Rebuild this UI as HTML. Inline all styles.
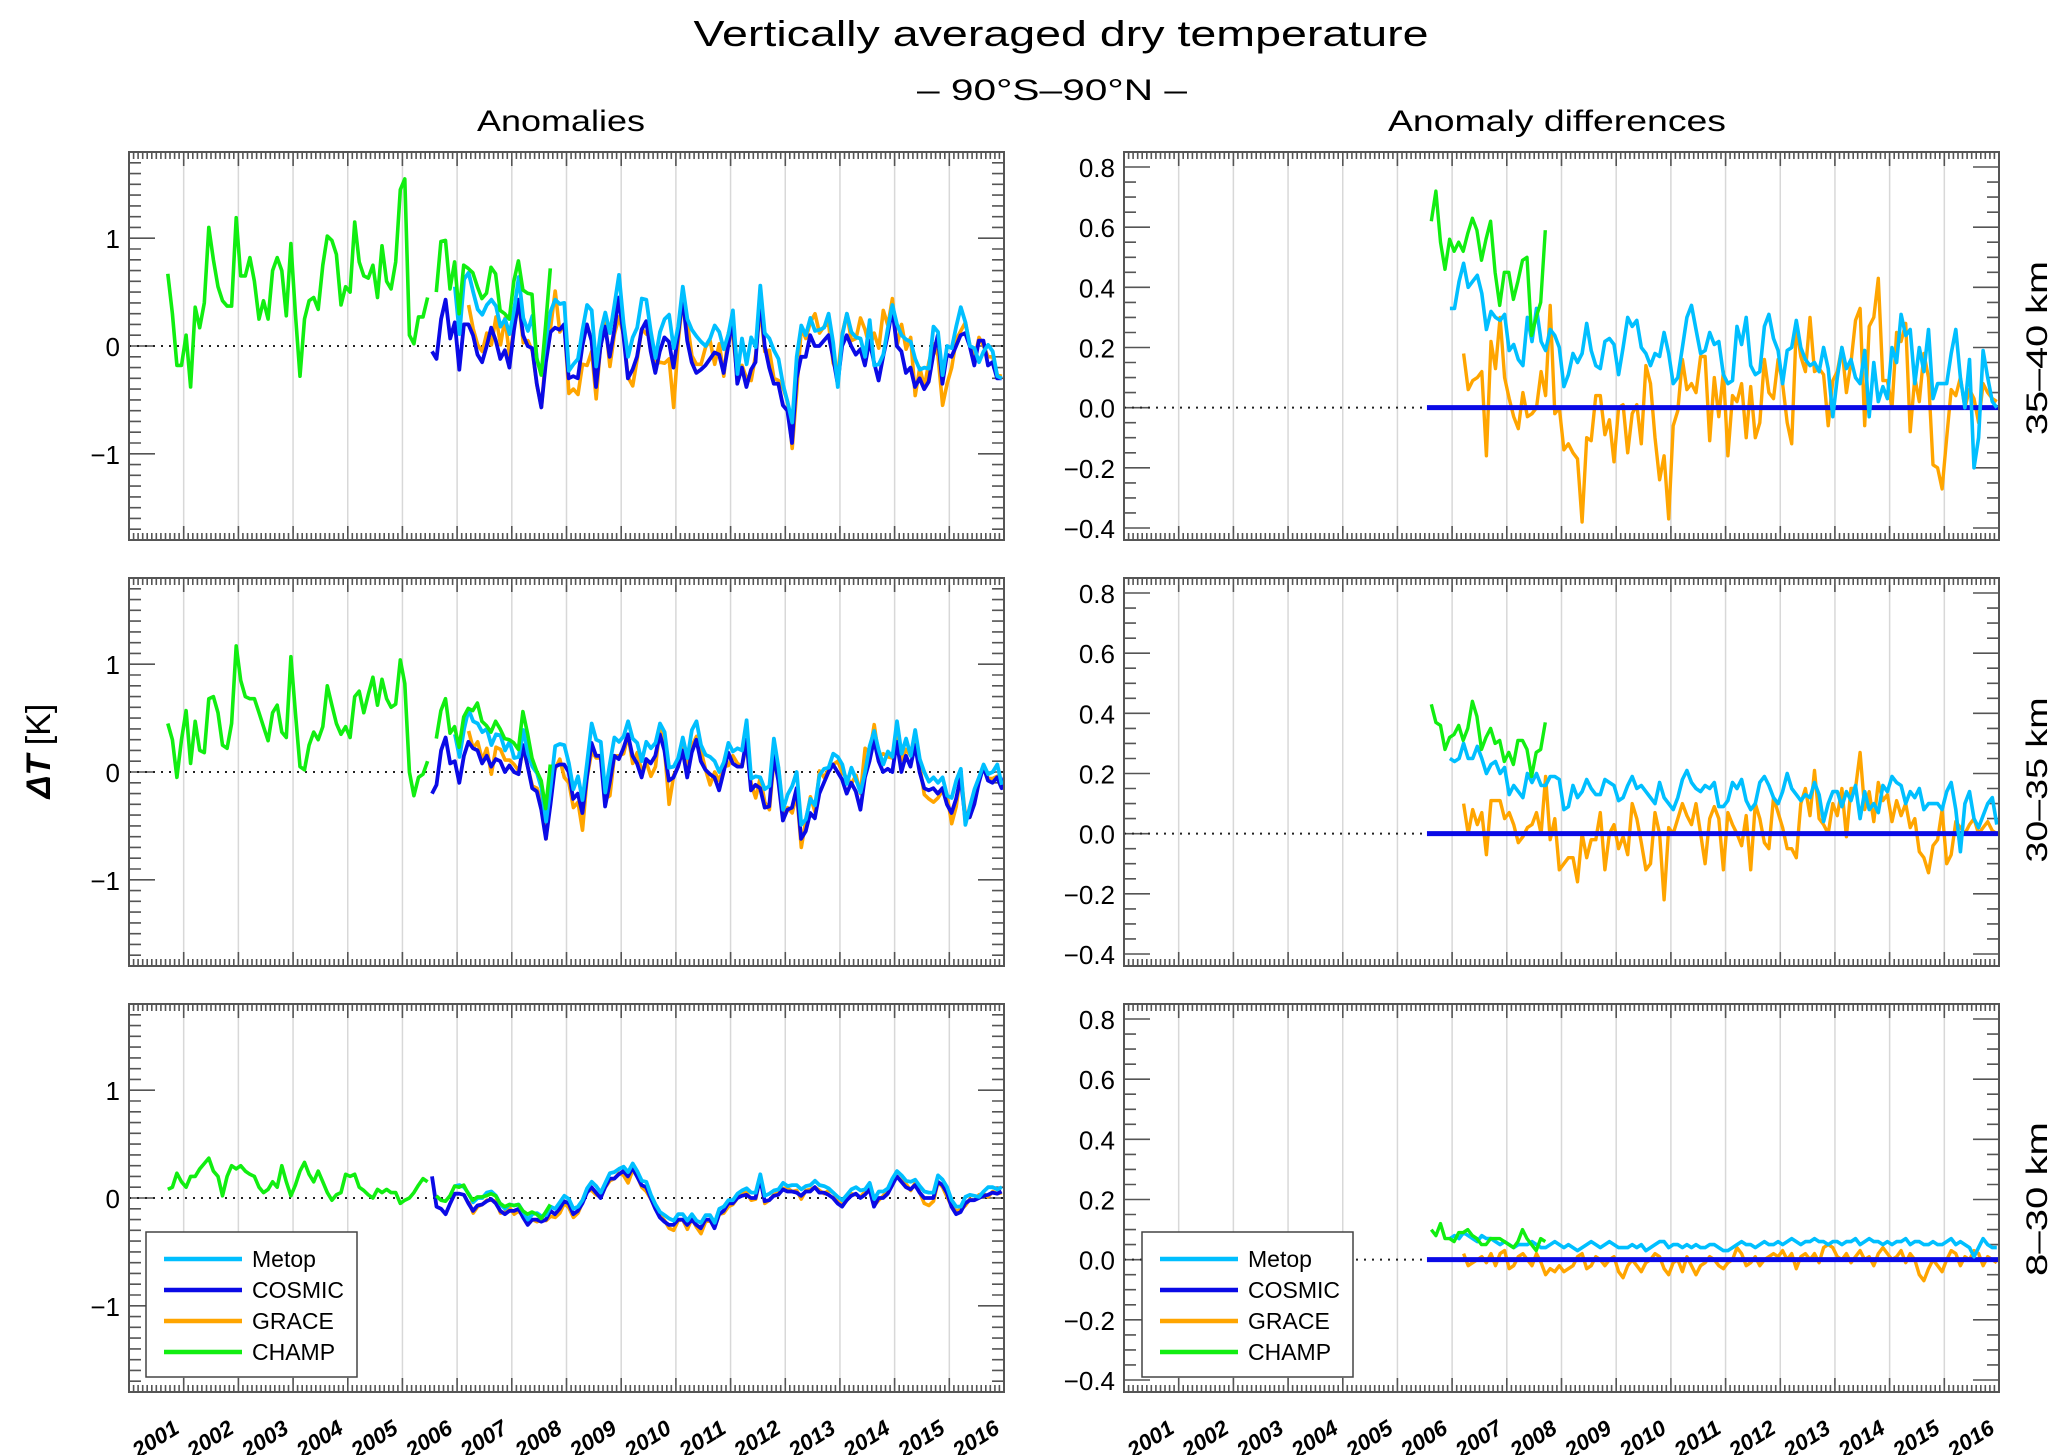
<!DOCTYPE html>
<html><head><meta charset="utf-8"><title>Vertically averaged dry temperature</title>
<style>
html,body{margin:0;padding:0;background:#fff;}
svg{display:block;font-family:"Liberation Sans",sans-serif;}
</style></head>
<body>
<svg id="chart" xmlns="http://www.w3.org/2000/svg" width="2067" height="1455" viewBox="0 0 2067 1455">
<defs id="defs"></defs>
<text x="1061" y="46" font-size="36" text-anchor="middle" textLength="735" lengthAdjust="spacingAndGlyphs">Vertically averaged dry temperature</text>
<text x="1052" y="100" font-size="30" text-anchor="middle" textLength="270" lengthAdjust="spacingAndGlyphs">– 90°S–90°N –</text>
<text x="561" y="131" font-size="30" text-anchor="middle" textLength="168" lengthAdjust="spacingAndGlyphs">Anomalies</text>
<text x="1557" y="131" font-size="30" text-anchor="middle" textLength="338" lengthAdjust="spacingAndGlyphs">Anomaly differences</text>
<text transform="translate(50,751) rotate(-90)" font-size="34" text-anchor="middle"><tspan font-style="italic" font-weight="bold">ΔT</tspan> [K]</text>
<text transform="translate(2047,348) rotate(-90)" font-size="30" text-anchor="middle" textLength="174" lengthAdjust="spacingAndGlyphs">35–40 km</text>
<text transform="translate(2047,780) rotate(-90)" font-size="30" text-anchor="middle" textLength="165" lengthAdjust="spacingAndGlyphs">30–35 km</text>
<text transform="translate(2047,1199) rotate(-90)" font-size="30" text-anchor="middle" textLength="154" lengthAdjust="spacingAndGlyphs">8–30 km</text>
</svg>
<script>
// ---------- data (monthly values) ----------
const years = [2001,2002,2003,2004,2005,2006,2007,2008,2009,2010,2011,2012,2013,2014,2015,2016];
const leftTicks = [-1,0,1];
const rightTicks = [-0.4,-0.2,0.0,0.2,0.4,0.6,0.8];
const rowNames = ["35-40km","30-35km","8-30km"];
const seriesNames = ["Metop","COSMIC","GRACE","CHAMP"];
const champStart = 2000.71, champ2Start = 2005.62, cosmicStart = 2005.54, metopStart = 2005.96, graceStart = 2006.21;

const champ1_r1 = [0.67,0.3,-0.18,-0.18,0.1,-0.38,0.36,0.17,0.4,1.1,0.8,0.55,0.42,0.37,0.37,1.19,0.65,0.65,0.82,0.6,0.25,0.42,0.25,0.7,0.82,0.7,0.28,0.95,0.3,-0.28,0.25,0.42,0.45,0.34,0.75,1.02,0.98,0.85,0.38,0.55,0.5,1.15,0.78,0.65,0.63,0.75,0.45,0.93,0.6,0.53,0.78,1.45,1.55,0.1,0.02,0.27,0.27,0.45];
const cosmic_r1 = [-0.05,-0.12,0.25,0.43,0.07,0.22,-0.22,0.2,0.2,0.1,-0.08,-0.15,0.0,0.17,0.05,-0.12,-0.04,-0.2,0.15,0.43,0.1,0.0,-0.02,-0.35,-0.57,-0.15,0.13,0.17,0.15,0.2,-0.3,-0.28,-0.3,0.0,0.2,0.05,-0.38,0.0,0.18,-0.1,0.15,0.45,0.1,-0.3,-0.22,-0.1,0.15,0.23,-0.05,-0.25,-0.05,0.08,0.04,-0.2,0.1,0.45,0.05,-0.15,-0.25,-0.22,-0.18,-0.12,-0.06,-0.08,-0.25,0.0,0.25,-0.35,-0.2,-0.38,-0.22,-0.15,0.45,0.0,-0.2,-0.35,-0.35,-0.55,-0.6,-0.9,-0.3,-0.1,-0.1,0.1,0.0,0.0,0.05,0.1,-0.1,-0.35,0.0,0.1,0.0,-0.08,-0.03,-0.18,0.05,-0.15,-0.32,-0.1,0.1,0.35,0.0,-0.05,-0.25,-0.2,-0.38,-0.3,-0.4,-0.33,-0.08,0.1,-0.35,-0.08,-0.1,0.0,0.1,0.12,0.0,-0.18,0.05,0.05,-0.18,-0.15,-0.3,-0.3];
const champDiff_r1 = [0.62,0.72,0.55,0.46,0.56,0.52,0.55,0.52,0.58,0.63,0.59,0.49,0.56,0.62,0.45,0.34,0.45,0.45,0.36,0.42,0.49,0.5,0.24,0.3,0.35,0.59];
const metopDiff_r1 = [0.33,0.33,0.42,0.48,0.4,0.42,0.44,0.38,0.26,0.32,0.3,0.29,0.31,0.19,0.21,0.16,0.14,0.3,0.22,0.33,0.22,0.19,0.26,0.24,0.2,0.07,0.11,0.18,0.15,0.18,0.28,0.19,0.14,0.13,0.22,0.23,0.21,0.11,0.2,0.3,0.27,0.29,0.2,0.18,0.14,0.18,0.17,0.25,0.18,0.08,0.1,0.2,0.3,0.34,0.26,0.18,0.19,0.25,0.21,0.22,0.11,0.08,0.09,0.27,0.21,0.3,0.14,0.11,0.12,0.27,0.31,0.23,0.19,0.08,0.19,0.2,0.29,0.2,0.16,0.14,0.15,0.12,0.2,0.13,-0.03,0.1,0.2,0.13,0.16,0.1,0.08,0.19,-0.03,0.15,0.02,0.07,0.03,0.2,0.15,0.31,0.24,0.26,0.08,0.2,0.12,0.26,0.03,0.08,0.08,0.08,0.18,0.26,0.1,0.0,0.16,-0.2,-0.1,0.19,0.1,0.02,0.0];
const graceDiff_r1 = [0.18,0.06,0.09,0.1,0.12,-0.16,0.22,0.13,0.3,0.1,0.03,-0.03,-0.07,0.05,-0.03,-0.02,0.0,0.12,0.04,0.34,-0.02,0.0,-0.14,-0.12,-0.15,-0.17,-0.38,-0.1,-0.11,0.04,0.04,-0.09,-0.04,-0.18,0.0,0.01,-0.15,-0.02,0.01,-0.12,0.14,0.08,-0.1,-0.24,-0.16,-0.37,-0.06,-0.01,0.16,0.06,0.08,0.05,0.17,0.17,-0.11,0.1,-0.03,0.12,-0.16,0.04,0.02,0.08,-0.1,0.07,-0.1,-0.05,0.16,0.05,0.03,0.16,0.08,-0.05,-0.12,0.27,0.17,0.12,0.3,0.12,0.13,0.11,-0.06,0.09,0.12,0.2,0.05,0.15,0.29,0.33,-0.06,0.27,0.3,0.43,0.09,0.09,0.0,0.25,0.22,0.28,-0.08,0.1,0.02,0.18,0.1,-0.19,-0.2,-0.27,-0.1,0.06,0.04,0.1,0.0,0.06,0.03,-0.05,0.08,0.05,0.03,0.02];

const champ1_r2 = [0.45,0.3,-0.05,0.3,0.57,0.08,0.47,0.2,0.18,0.68,0.7,0.55,0.25,0.22,0.45,1.17,0.85,0.7,0.68,0.68,0.55,0.42,0.29,0.55,0.62,0.37,0.32,1.07,0.55,0.05,0.02,0.25,0.37,0.3,0.42,0.8,0.62,0.45,0.35,0.42,0.32,0.7,0.75,0.55,0.72,0.88,0.62,0.86,0.68,0.6,0.63,1.04,0.82,0.0,-0.22,-0.05,-0.02,0.1];
const cosmic_r2 = [-0.2,-0.12,0.2,0.32,0.08,0.1,-0.1,0.15,0.28,0.22,0.2,0.08,0.15,0.05,0.12,0.1,0.0,0.06,0.0,-0.02,0.25,0.05,-0.15,-0.18,-0.35,-0.62,-0.3,0.05,0.07,0.07,0.0,-0.25,-0.2,-0.38,-0.05,0.27,0.15,0.15,-0.32,-0.1,0.15,0.12,0.22,0.35,0.15,0.08,-0.05,0.12,0.08,0.15,0.35,0.2,-0.08,-0.05,0.05,0.2,-0.05,0.18,0.3,0.1,0.02,-0.02,-0.05,-0.17,0.0,0.18,0.08,0.05,0.05,0.3,-0.17,-0.12,-0.15,-0.33,-0.32,0.15,-0.08,-0.45,-0.35,-0.33,-0.15,-0.62,-0.55,-0.38,-0.43,-0.2,-0.1,0.0,0.07,0.0,-0.07,-0.2,-0.1,-0.18,-0.35,-0.05,0.1,0.3,0.1,0.0,0.03,0.0,0.28,0.0,0.15,0.05,0.25,0.0,-0.15,-0.17,-0.15,-0.2,-0.15,-0.3,-0.38,-0.25,-0.05,-0.43,-0.42,-0.3,-0.1,0.05,-0.08,-0.1,-0.05,-0.15,0.0,-0.2,-0.22,-0.38];
const champDiff_r2 = [0.43,0.37,0.36,0.28,0.32,0.33,0.36,0.31,0.35,0.44,0.39,0.28,0.32,0.35,0.3,0.31,0.24,0.27,0.23,0.31,0.31,0.28,0.19,0.27,0.28,0.37];
const metopDiff_r2 = [0.25,0.24,0.25,0.3,0.25,0.25,0.29,0.25,0.2,0.23,0.24,0.2,0.22,0.13,0.16,0.14,0.12,0.2,0.17,0.2,0.16,0.16,0.19,0.19,0.18,0.08,0.09,0.16,0.12,0.14,0.18,0.15,0.13,0.13,0.18,0.17,0.16,0.11,0.12,0.16,0.19,0.15,0.16,0.14,0.12,0.1,0.17,0.12,0.1,0.08,0.12,0.18,0.21,0.17,0.15,0.14,0.16,0.15,0.17,0.09,0.09,0.11,0.17,0.15,0.18,0.11,0.08,0.1,0.17,0.19,0.16,0.12,0.1,0.14,0.2,0.15,0.13,0.11,0.13,0.12,0.17,0.13,0.04,0.1,0.14,0.14,0.09,0.14,0.11,0.16,0.05,0.14,0.08,0.1,0.07,0.16,0.14,0.19,0.17,0.16,0.1,0.14,0.12,0.15,0.08,0.1,0.1,0.1,0.08,0.14,0.17,0.08,-0.06,0.1,0.14,0.05,0.02,0.06,0.1,0.12,0.03];
const graceDiff_r2 = [0.1,0.0,0.08,0.03,0.07,-0.07,0.11,0.11,0.11,0.05,0.07,0.03,-0.03,-0.01,0.02,0.03,0.07,0.0,0.19,-0.02,0.05,-0.12,-0.1,-0.08,-0.08,-0.16,0.0,-0.08,-0.02,-0.02,0.07,-0.12,0.0,0.03,-0.05,-0.01,-0.07,0.1,0.05,-0.03,-0.12,-0.1,0.07,0.0,-0.22,0.02,0.0,0.05,0.1,0.06,0.03,0.1,0.0,-0.1,0.05,0.09,0.05,-0.12,0.07,0.03,0.0,-0.04,0.06,-0.12,0.1,0.05,-0.03,-0.05,0.12,0.07,0.02,-0.05,-0.05,-0.08,0.1,0.15,0.06,0.21,0.05,0.03,0.0,0.1,0.06,0.15,-0.01,0.15,0.15,0.27,0.08,0.14,0.04,0.17,0.11,0.13,0.04,0.11,0.06,0.1,0.02,0.05,-0.06,-0.08,-0.13,-0.04,-0.02,0.08,-0.1,-0.07,0.04,0.02,0.0,0.03,0.05,0.0,0.02,0.04,0.01,0.0];

const champ1_r3 = [0.08,0.1,0.23,0.15,0.1,0.2,0.2,0.27,0.32,0.37,0.25,0.2,0.02,0.2,0.3,0.27,0.3,0.25,0.22,0.2,0.1,0.05,0.08,0.15,0.1,0.3,0.15,0.02,0.12,0.25,0.33,0.22,0.15,0.25,0.15,0.05,-0.02,0.03,0.05,0.22,0.2,0.22,0.1,0.07,0.03,0.0,0.08,0.05,0.08,0.05,0.05,-0.05,-0.02,0.0,0.05,0.12,0.18,0.15];
const cosmic_r3 = [0.2,-0.08,-0.1,-0.15,-0.05,0.04,0.04,0.03,-0.05,-0.12,-0.07,-0.06,-0.03,-0.01,-0.05,-0.12,-0.15,-0.12,-0.12,-0.1,-0.18,-0.25,-0.2,-0.2,-0.22,-0.2,-0.12,-0.15,-0.1,-0.03,-0.05,-0.15,-0.12,-0.05,0.05,0.1,0.05,0.0,0.1,0.18,0.18,0.22,0.25,0.2,0.28,0.2,0.12,0.1,0.0,-0.1,-0.18,-0.22,-0.25,-0.25,-0.2,-0.2,-0.25,-0.2,-0.25,-0.28,-0.2,-0.2,-0.28,-0.15,-0.12,-0.05,-0.05,0.0,0.02,0.03,0.0,0.0,0.18,-0.03,-0.02,0.02,0.03,0.08,0.06,0.06,0.05,0.02,0.06,0.06,0.1,0.05,0.05,0.03,0.0,-0.05,-0.08,-0.02,0.02,0.04,0.0,0.03,0.08,-0.08,0.0,0.0,0.04,0.12,0.2,0.15,0.1,0.08,0.12,0.05,0.0,0.0,0.0,0.15,0.12,0.05,-0.08,-0.15,-0.13,-0.05,-0.02,-0.02,0.0,0.02,0.03,0.05,0.04,0.06];
const champDiff_r3 = [0.1,0.08,0.12,0.07,0.07,0.06,0.09,0.09,0.1,0.08,0.07,0.05,0.05,0.07,0.07,0.07,0.06,0.05,0.04,0.06,0.1,0.07,0.05,0.03,0.07,0.06];
const metopDiff_r3 = [0.07,0.08,0.07,0.09,0.08,0.07,0.06,0.08,0.07,0.07,0.06,0.05,0.06,0.05,0.04,0.05,0.05,0.05,0.06,0.05,0.04,0.04,0.05,0.06,0.05,0.04,0.05,0.04,0.03,0.04,0.05,0.06,0.05,0.04,0.05,0.06,0.05,0.04,0.04,0.04,0.05,0.04,0.05,0.03,0.04,0.05,0.06,0.06,0.04,0.05,0.05,0.04,0.05,0.04,0.05,0.04,0.04,0.05,0.05,0.04,0.03,0.03,0.04,0.05,0.06,0.05,0.05,0.04,0.05,0.06,0.05,0.05,0.06,0.05,0.06,0.07,0.06,0.05,0.06,0.06,0.07,0.06,0.06,0.05,0.06,0.06,0.05,0.06,0.06,0.07,0.05,0.06,0.07,0.06,0.06,0.05,0.06,0.05,0.06,0.06,0.07,0.05,0.06,0.06,0.05,0.05,0.06,0.05,0.05,0.06,0.07,0.05,0.06,0.05,0.04,0.01,0.04,0.07,0.05,0.04,0.04];
const graceDiff_r3 = [0.02,-0.02,-0.01,0.0,0.01,-0.01,0.02,-0.02,0.02,0.03,-0.03,-0.02,0.01,0.02,0.0,-0.02,0.02,-0.01,-0.05,-0.03,-0.04,-0.02,-0.04,-0.03,-0.02,0.01,0.02,-0.03,-0.02,0.01,0.0,-0.02,0.0,0.01,-0.04,-0.06,-0.02,0.0,-0.02,-0.04,-0.01,0.0,0.02,0.01,-0.03,-0.05,-0.01,0.0,-0.04,0.01,-0.02,-0.05,-0.02,-0.01,0.01,0.0,-0.02,-0.03,-0.01,0.0,0.04,0.02,-0.02,-0.01,0.01,-0.02,0.0,0.01,0.02,0.01,0.03,0.0,0.02,-0.03,0.01,0.02,0.0,0.02,-0.01,0.04,0.05,0.04,0.01,0.0,0.02,-0.01,0.01,0.03,0.0,0.01,-0.02,0.02,0.04,0.02,0.0,0.01,0.03,-0.01,0.02,0.0,-0.05,-0.07,-0.03,0.0,-0.02,-0.04,0.0,0.03,0.02,-0.02,0.01,0.0,0.03,0.02,-0.02,0.01,0.0,-0.01];

const rows = [
  {champ1:champ1_r1, cosmic:cosmic_r1, champD:champDiff_r1, metopD:metopDiff_r1, graceD:graceDiff_r1},
  {champ1:champ1_r2, cosmic:cosmic_r2, champD:champDiff_r2, metopD:metopDiff_r2, graceD:graceDiff_r2},
  {champ1:champ1_r3, cosmic:cosmic_r3, champD:champDiff_r3, metopD:metopDiff_r3, graceD:graceDiff_r3}
];

// ---------- layout ----------
const NS = "http://www.w3.org/2000/svg";
const svg = document.getElementById("chart");
const defs = document.getElementById("defs");
const rowTops = [152,578,1004], H = 388;
const LX0 = 129, RX0 = 1124, W = 875;
const X_MIN = 2000, X_MAX = 2016;
const LY = [-1.8,1.8], RY = [-0.44,0.85];
const COL = {Metop:"#00bfff", COSMIC:"#0a0ae6", GRACE:"#ffa500", CHAMP:"#11ee11"};
let clipN = 0;

function mk(tag, attrs, parent){
  const e = document.createElementNS(NS, tag);
  for (const k in attrs) e.setAttribute(k, attrs[k]);
  (parent||svg).appendChild(e);
  return e;
}
function xScale(x0){ return t => x0 + (t - X_MIN) / (X_MAX - X_MIN) * W; }
function yScale(top, dom){ return v => top + H - (v - dom[0]) / (dom[1] - dom[0]) * H; }

function frame(x0, top, dom, ticks, minorStep, fmt, name, showX){
  const g = mk("g", {});
  
  
  const xs = xScale(x0), ys = yScale(top, dom);
  const cid = "clip" + (clipN++);
  const cp = mk("clipPath", {id:cid}, defs);
  mk("rect", {x:x0, y:top, width:W, height:H}, cp);
  for (let y = 2001; y <= 2015; y++) {
    const gl = mk("line", {x1:xs(y), x2:xs(y), y1:top, y2:top+H, stroke:"#d8d8d8", "stroke-width":1.5}, g);
    
    
  }
  let d = "";
  for (let m = 1; m < 16*12; m++) {
    const x = xs(X_MIN + m/12);
    const len = (m % 12 === 0) ? 14 : 7;
    d += `M${x.toFixed(1)},${top}v${len}M${x.toFixed(1)},${top+H}v${-len}`;
  }
  const startV = Math.ceil(dom[0]/minorStep - 1e-6) * minorStep;
  for (let v = startV; v <= dom[1] + 1e-9; v += minorStep) {
    const y = ys(v);
    const major = ticks.some(t => Math.abs(t - v) < 1e-6);
    const len = major ? 26 : 12;
    d += `M${x0},${y.toFixed(1)}h${len}M${x0+W},${y.toFixed(1)}h${-len}`;
  }
  const tk = mk("path", {d:d, stroke:"#555", "stroke-width":1.6, fill:"none"}, g);
  
  
  ticks.forEach(t => {
    const tx = mk("text", {x:x0-9, y:ys(t)+10, "font-size":26, "text-anchor":"end"}, g);
    tx.textContent = fmt(t);
    
    
  });
  if (showX) {
    years.forEach(yr => {
      const lx = xs(yr) - 3, ly = top + H + 40;
      const tx = mk("text", {x:lx, y:ly, "font-size":22, "font-weight":"bold", "font-style":"italic", "text-anchor":"end", textLength:50, lengthAdjust:"spacingAndGlyphs", transform:`rotate(-32 ${lx} ${ly})`}, g);
      tx.textContent = yr;
      
      
    });
  }
  const plot = mk("g", {"clip-path":`url(#${cid})`}, g);
  
  
  const box = mk("rect", {x:x0, y:top, width:W, height:H, fill:"none", stroke:"#555", "stroke-width":2}, g);
  
  
  return {xs, ys, g: plot};
}

function series(ax, start, vals, color, width, name){
  let d = "";
  vals.forEach((v, i) => { d += (i ? "L" : "M") + ax.xs(start + i/12).toFixed(1) + "," + ax.ys(v).toFixed(1); });
  const p = mk("path", {d:d, stroke:color, "stroke-width":width, fill:"none", "stroke-linejoin":"round"}, ax.g);
  
  
  return p;
}
function dotted(ax, x0, x1, name){
  const l = mk("line", {x1:x0, x2:x1, y1:ax.ys(0), y2:ax.ys(0), stroke:"#222", "stroke-width":2, "stroke-dasharray":"2,6"}, ax.g);
  
  
}

rows.forEach((r, ri) => {
  const top = rowTops[ri];
  const last = ri === 2;
  const L = frame(LX0, top, LY, leftTicks, 0.1, v => v === 0 ? "0" : (v < 0 ? "−1" : "1"), "anomalies-panel-" + rowNames[ri], last);
  dotted(L, LX0, LX0 + W, "zero-line");
  const metopOff = Math.round((metopStart - cosmicStart) * 12);
  const graceOff = Math.round((graceStart - cosmicStart) * 12);
  const champOff = Math.round((champ2Start - cosmicStart) * 12);
  const grace = r.graceD.map((d, i) => (r.cosmic[i + graceOff] ?? r.cosmic[r.cosmic.length-1]) + d);
  const metop = r.metopD.map((d, i) => (r.cosmic[i + metopOff] ?? r.cosmic[r.cosmic.length-1]) + d);
  const champ2 = r.champD.map((d, i) => r.cosmic[i + champOff] + d);
  series(L, graceStart, grace, COL.GRACE, 3.6, "grace-anomaly-line");
  series(L, cosmicStart, r.cosmic, COL.COSMIC, 3.8, "cosmic-anomaly-line");
  series(L, metopStart, metop, COL.Metop, 3.8, "metop-anomaly-line");
  series(L, champStart, r.champ1, COL.CHAMP, 3.6, "champ-anomaly-line");
  series(L, champ2Start, champ2, COL.CHAMP, 3.6, "champ-anomaly-line-2");
  const R = frame(RX0, top, RY, rightTicks, 0.05, v => v.toFixed(1).replace("-", "−"), "differences-panel-" + rowNames[ri], last);
  dotted(R, RX0, R.xs(cosmicStart), "zero-line");
  series(R, graceStart, r.graceD, COL.GRACE, 3.4, "grace-difference-line");
  const zl = mk("line", {x1:R.xs(cosmicStart), x2:RX0 + W, y1:R.ys(0), y2:R.ys(0), stroke:COL.COSMIC, "stroke-width":5}, R.g);
  
  
  series(R, metopStart, r.metopD, COL.Metop, 3.6, "metop-difference-line");
  series(R, champ2Start, r.champD, COL.CHAMP, 3.4, "champ-difference-line");
});

function legend(x, name){
  const g = mk("g", {});
  
  
  const b = mk("rect", {x:x, y:1232, width:211, height:145, fill:"#fff", stroke:"#444", "stroke-width":1.5}, g);
  
  
  seriesNames.forEach((s, i) => {
    const y = 1259 + i * 31;
    const l = mk("line", {x1:x+18, x2:x+96, y1:y, y2:y, stroke:COL[s], "stroke-width":4.5}, g);
    
    
    const t = mk("text", {x:x+106, y:y+8, "font-size":23}, g);
    t.textContent = s;
    
    
  });
}
legend(146, "legend-left");
legend(1142, "legend-right");
</script>
</body></html>
